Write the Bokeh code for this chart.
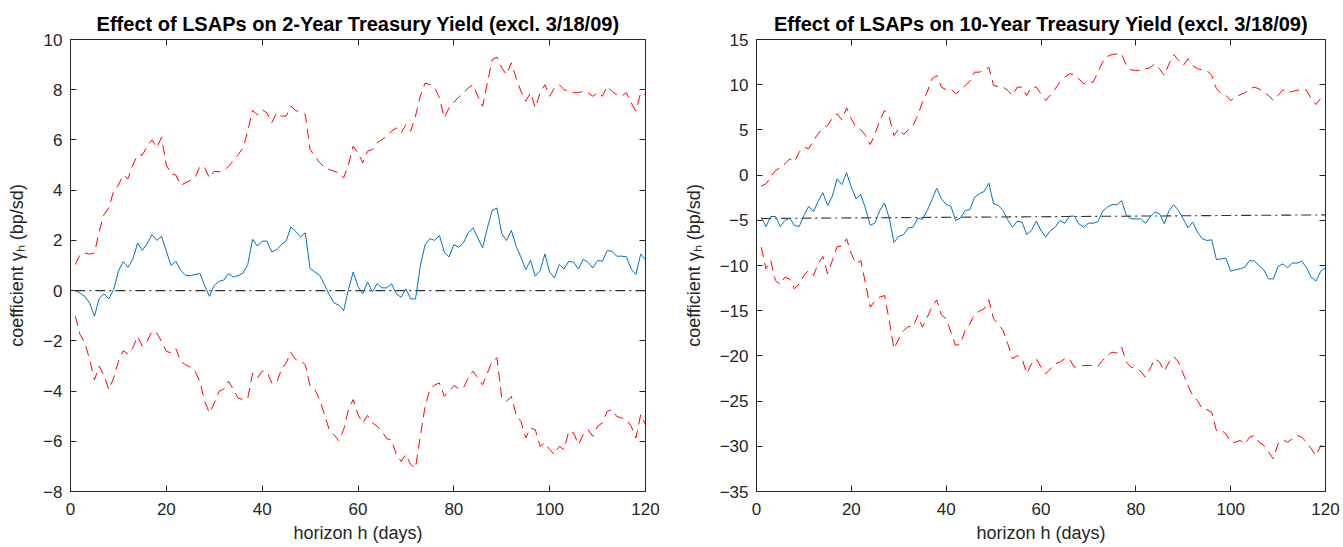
from bokeh.plotting import figure
from bokeh.layouts import row
from bokeh.models import LinearAxis, FixedTicker, Range1d, CustomJSTickFormatter
from bokeh.embed import file_html
from bokeh.resources import INLINE

# ---------------- data ----------------
horizon = list(range(1, 121))

coef_2y = [0, -0.1, -0.23, -0.5, -1.02, -0.3, -0.13, -0.33, 0.04, 0.77,
           1.16, 0.93, 1.25, 1.89, 1.6, 1.87, 2.23, 2.0, 2.16, 1.57,
           1.0, 1.17, 0.8, 0.61, 0.6, 0.64, 0.68, 0.2, -0.23, 0.21,
           0.37, 0.42, 0.68, 0.54, 0.6, 0.69, 1.04, 2.05, 1.77, 1.97,
           1.97, 1.54, 1.63, 1.83, 1.97, 2.54, 2.36, 2.14, 2.3, 0.88,
           0.74, 0.61, 0.24, -0.16, -0.49, -0.58, -0.8, 0.04, 0.74, 0.17,
           -0.12, 0.35, -0.05, 0.28, 0.11, 0.11, 0.27, -0.13, -0.27, 0.07,
           -0.33, -0.33, 0.97, 1.83, 2.07, 2.0, 2.19, 1.53, 1.34, 1.83,
           1.73, 1.9, 2.3, 2.5, 2.1, 1.7, 2.5, 3.19, 3.29, 2.27,
           1.99, 2.4, 1.77, 1.33, 0.84, 1.21, 0.57, 0.8, 1.46, 0.74,
           0.5, 1.04, 0.86, 1.17, 1.13, 0.86, 1.25, 1.13, 0.9, 1.2,
           1.17, 1.59, 1.57, 1.37, 1.37, 1.35, 0.86, 0.64, 1.46, 1.24]

upper_2y = [1.04, 1.43, 1.5, 1.45, 1.5, 2.36, 3.03, 3.3, 3.96, 4.2,
            4.6, 4.45, 5.0, 5.4, 5.4, 5.75, 6.0, 5.7, 6.1, 5.0,
            4.65, 4.6, 4.2, 4.29, 4.38, 4.5, 4.95, 4.9, 4.49, 4.75,
            4.73, 4.78, 4.95, 5.18, 5.42, 5.68, 6.35, 7.18, 7.0, 7.2,
            7.08, 6.68, 7.08, 6.95, 6.95, 7.34, 7.17, 7.12, 7.01, 5.62,
            5.35, 5.09, 4.91, 4.82, 4.75, 4.69, 4.49, 5.02, 5.75, 5.48,
            5.09, 5.55, 5.62, 5.88, 6.02, 6.15, 6.35, 6.48, 6.28, 6.61,
            6.35, 6.95, 7.74, 8.27, 8.2, 8.07, 7.68, 6.88, 7.28, 7.5,
            7.7, 7.88, 8.07, 8.2, 7.74, 7.34, 8.27, 9.2, 9.3, 8.87,
            8.6, 9.07, 8.47, 7.94, 7.54, 7.88, 7.28, 7.88, 8.2, 7.74,
            8.07, 8.2, 8.0, 7.94, 7.88, 7.88, 7.94, 7.88, 7.74, 7.88,
            7.74, 8.14, 7.94, 7.8, 7.74, 7.88, 7.48, 7.15, 7.88, 7.8]

lower_2y = [-1.02, -1.75, -2.08, -2.75, -3.55, -3.0, -3.4, -3.94, -3.48, -2.82,
            -2.39, -2.52, -2.28, -1.82, -2.22, -2.02, -1.62, -1.69, -2.02, -2.42,
            -2.48, -2.31, -2.82, -2.95, -3.05, -3.21, -3.61, -4.41, -4.87, -4.48,
            -4.01, -3.92, -3.61, -3.94, -4.28, -4.34, -4.28, -3.28, -3.48, -3.21,
            -3.24, -3.68, -3.68, -3.15, -2.88, -2.46, -2.75, -2.79, -2.95, -3.81,
            -3.94, -4.34, -4.94, -5.54, -5.74, -5.98, -5.54, -4.74, -4.34, -4.94,
            -5.27, -4.97, -5.27, -5.4, -5.6, -5.9, -5.94, -6.53, -6.8, -6.53,
            -6.93, -7.07, -5.8, -4.61, -3.94, -3.75, -3.68, -4.21, -4.01, -3.78,
            -3.9, -3.88, -3.48, -3.21, -3.48, -3.75, -3.28, -2.82, -2.68, -4.28,
            -4.41, -4.21, -4.94, -5.21, -5.87, -5.47, -5.54, -6.2, -6.07, -6.33,
            -6.53, -6.2, -6.33, -5.6, -5.67, -6.13, -5.74, -5.54, -5.8, -5.4,
            -5.27, -4.81, -4.74, -5.01, -5.07, -5.14, -5.4, -5.87, -4.94, -5.34]

coef_10y = [-4.65, -5.69, -4.58, -4.58, -5.69, -5.02, -4.76, -5.57, -5.69, -4.47,
            -3.47, -4.03, -2.92, -1.96, -3.36, -2.33, -0.41, -1.04, 0.25, -1.33,
            -2.63, -2.15, -3.73, -5.57, -5.28, -3.92, -3.1, -4.76, -7.46, -6.76,
            -6.6, -5.85, -5.76, -4.76, -4.91, -3.92, -2.74, -1.45, -2.63, -3.25,
            -3.44, -5.02, -4.76, -3.92, -3.81, -2.44, -2.07, -1.81, -0.89, -3.18,
            -3.36, -3.92, -4.95, -5.76, -5.1, -5.2, -6.57, -6.13, -5.1, -6.13,
            -6.87, -6.13, -5.76, -5.02, -5.32, -4.54, -4.54, -5.39, -5.76, -5.32,
            -5.32, -5.15, -4.0, -3.55, -3.25, -3.29, -2.81, -4.47, -4.84, -4.84,
            -4.84, -5.32, -4.65, -4.1, -4.28, -5.39, -3.92, -3.29, -3.92, -4.84,
            -5.83, -5.2, -6.31, -7.05, -7.23, -7.16, -9.37, -9.26, -9.19, -10.63,
            -10.48, -10.37, -10.18, -9.45, -9.52, -10.0, -10.48, -11.48, -11.48, -10.11,
            -9.82, -10.26, -9.71, -9.74, -9.52, -10.26, -11.29, -11.73, -10.63, -10.26]

upper_10y = [-1.22, -0.97, -0.23, 0.51, 0.8, 1.25, 1.8, 1.5, 2.54, 3.09,
             2.91, 3.83, 4.57, 5.19, 5.49, 6.3, 6.78, 6.11, 7.44, 6.22,
             5.3, 5.04, 4.38, 3.38, 4.57, 6.04, 7.15, 6.41, 4.38, 5.12,
             4.5, 4.97, 5.49, 6.59, 8.07, 9.18, 10.65, 11.02, 9.73, 9.43,
             9.54, 8.99, 9.36, 9.91, 10.39, 11.39, 11.39, 11.57, 11.94, 9.91,
             9.8, 9.73, 9.36, 8.81, 9.73, 9.73, 8.81, 9.73, 9.73, 8.99,
             8.25, 8.88, 9.54, 10.28, 10.83, 11.2, 11.13, 10.65, 10.1, 10.28,
             10.28, 11.4, 12.49, 13.12, 13.34, 13.41, 13.41, 12.12, 11.64, 11.57,
             11.64, 11.76, 11.87, 12.31, 11.76, 11.02, 12.31, 13.34, 12.68, 12.12,
             12.86, 12.12, 11.76, 11.64, 11.57, 11.02, 9.54, 9.06, 8.81, 8.25,
             8.62, 8.88, 9.1, 9.54, 9.73, 9.54, 9.17, 8.81, 8.25, 8.81,
             9.43, 9.1, 9.25, 9.36, 9.54, 9.36, 8.44, 7.81, 8.51, 8.81]

lower_10y = [-7.97, -10.37, -9.45, -11.66, -12.1, -11.29, -11.48, -12.58, -12.03, -11.1,
             -10.55, -11.1, -9.82, -9.0, -10.92, -9.45, -7.9, -7.86, -7.05, -8.71,
             -9.82, -9.45, -12.03, -14.61, -13.87, -13.5, -13.32, -16.08, -19.22, -18.11,
             -17.2, -16.75, -16.82, -15.53, -16.82, -15.72, -14.61, -13.8, -15.46, -15.9,
             -17.38, -18.85, -18.66, -17.19, -16.45, -15.35, -15.05, -14.79, -13.8, -15.9,
             -16.45, -17.19, -18.66, -20.32, -19.95, -20.32, -21.98, -20.87, -20.32, -21.24,
             -21.98, -21.43, -20.87, -20.69, -20.32, -20.32, -21.24, -21.17, -21.06, -21.06,
             -21.06, -21.15, -20.5, -19.95, -19.59, -19.7, -19.03, -20.69, -21.24, -21.43,
             -21.69, -22.35, -21.43, -20.32, -20.69, -21.69, -20.69, -20.06, -20.69, -21.98,
             -23.27, -24.38, -24.93, -25.86, -25.93, -26.23, -28.26, -28.19, -28.63, -29.55,
             -29.55, -29.36, -29.73, -28.99, -28.81, -29.55, -29.92, -30.65, -31.39, -29.73,
             -29.28, -29.55, -29.18, -28.81, -28.99, -29.55, -30.29, -31.02, -29.92, -30.1]

ref_h = [1, 120]
ref_2y = [0, 0]
ref_10y = [-4.8, -4.4]

x_ticks = [0, 20, 40, 60, 80, 100, 120]
y_ticks_2y = [-8, -6, -4, -2, 0, 2, 4, 6, 8, 10]
y_ticks_10y = [-35, -30, -25, -20, -15, -10, -5, 0, 5, 10, 15]

title_2y = "Effect of LSAPs on 2-Year Treasury Yield (excl. 3/18/09)"
title_10y = "Effect of LSAPs on 10-Year Treasury Yield (excl. 3/18/09)"
xlabel = "horizon h (days)"
ylabel = "coefficient \u03b3\u2095 (bp/sd)"

AX = "#262626"
FONT = "Liberation Sans"


def panel(title, coef, up, lo, ref_y, yr, yticks, width, bl, br):
    p = figure(width=width, height=547, output_backend="svg", toolbar_location=None,
               x_range=Range1d(0, 120), y_range=Range1d(*yr),
               min_border_left=bl, min_border_right=br, min_border_top=39,
               min_border_bottom=56)
    p.grid.visible = False
    p.background_fill_color = "white"
    p.border_fill_color = "white"
    p.outline_line_color = AX
    p.title.text = title
    p.title.align = "center"
    p.title.text_font = FONT
    p.title.text_font_size = "20px"
    p.title.text_font_style = "bold"
    p.title.text_color = "black"
    p.title.standoff = 10

    for ax, ticks in ((p.xaxis[0], x_ticks), (p.yaxis[0], yticks)):
        ax.ticker = FixedTicker(ticks=ticks)
        ax.major_tick_in = 6
        ax.major_tick_out = 0
        ax.minor_tick_line_color = None
        ax.axis_line_color = AX
        ax.major_tick_line_color = AX
        ax.major_label_text_font = FONT
        ax.major_label_text_font_size = "17px"
        ax.major_label_text_color = AX
        ax.axis_label_text_font = FONT
        ax.axis_label_text_font_size = "18px"
        ax.axis_label_text_font_style = "normal"
        ax.axis_label_text_color = AX
    p.xaxis[0].axis_label = xlabel
    p.yaxis[0].axis_label = ylabel
    p.xaxis[0].major_label_standoff = 11
    p.xaxis[0].axis_label_standoff = 5
    p.yaxis[0].major_label_standoff = 8
    p.yaxis[0].axis_label_standoff = 13

    empty = CustomJSTickFormatter(code="return ''")
    for side, ticks in (("above", x_ticks), ("right", yticks)):
        a = LinearAxis(ticker=FixedTicker(ticks=ticks), formatter=empty,
                       major_tick_in=6, major_tick_out=0, minor_tick_line_color=None,
                       major_label_standoff=0, major_label_text_font_size="1px",
                       axis_line_color=AX, major_tick_line_color=AX)
        p.add_layout(a, side)

    p.line(ref_h, ref_y, line_color="#333333", line_width=1.1, line_dash="10 4 2 4")
    p.line(horizon, up, line_color="#ff0000", line_width=1, line_dash="10 6")
    p.line(horizon, lo, line_color="#ff0000", line_width=1, line_dash="10 6")
    p.line(horizon, coef, line_color="#0072bd", line_width=1)
    return p


p1 = panel(title_2y, coef_2y, upper_2y, lower_2y, ref_2y, (-8, 10), y_ticks_2y, 680, 70, 35)
p2 = panel(title_10y, coef_10y, upper_10y, lower_10y, ref_10y, (-35, 15), y_ticks_10y, 663, 74, 18)

layout = row(p1, p2, spacing=0)
open("out.html", "w").write(file_html(layout, INLINE))
